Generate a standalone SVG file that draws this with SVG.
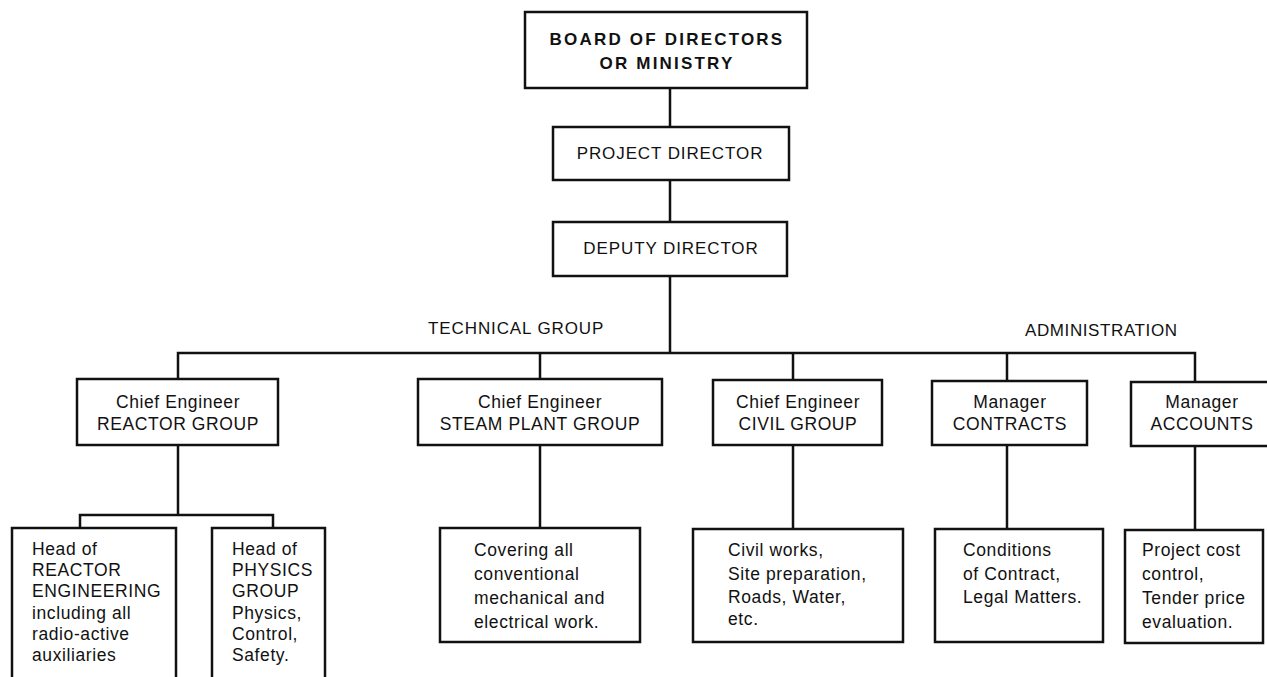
<svg xmlns="http://www.w3.org/2000/svg" width="1267" height="677" viewBox="0 0 1267 677">
<style>
  .box { fill: #fff; stroke: #111; stroke-width: 2.5; }
  .ln { fill: none; stroke: #111; stroke-width: 2.5; }
  text { font-family: "Liberation Sans", Arial, sans-serif; font-size: 17.5px; letter-spacing: 0.6px; fill: #111; }
  .c { text-anchor: middle; }
  .b { font-size: 17px; font-weight: bold; letter-spacing: 2.2px; }
  .cap { font-size: 17px; letter-spacing: 0.9px; }
</style>
<rect width="1267" height="677" fill="#fff"/>
<g id="connectors">
  <path class="ln" d="M670 88 V127 M670 180 V222 M670 276 V353"/>
  <path class="ln" d="M178 379 V353 H1195 V382"/>
  <path class="ln" d="M540 353 V379 M793 353 V380 M1007 353 V381"/>
  <path class="ln" d="M178 445 V515 M80 528 V515 H273 V528"/>
  <path class="ln" d="M540 445 V528 M793 445 V529 M1007 445 V529 M1195 446 V530"/>
</g>
<g id="board">
  <rect class="box" x="525" y="12" width="282" height="76"/>
  <text class="c b" x="667" y="45">BOARD OF DIRECTORS</text>
  <text class="c b" x="667" y="69">OR MINISTRY</text>
</g>
<g id="project-director">
  <rect class="box" x="553" y="127" width="236" height="53"/>
  <text class="c cap" x="670" y="159">PROJECT DIRECTOR</text>
</g>
<g id="deputy-director">
  <rect class="box" x="553" y="222" width="234" height="54"/>
  <text class="c cap" x="671" y="254">DEPUTY DIRECTOR</text>
</g>
<g id="labels">
  <text class="cap" x="428" y="334">TECHNICAL GROUP</text>
  <text class="cap" x="1025" y="336" style="letter-spacing:0.6px">ADMINISTRATION</text>
</g>
<g id="reactor-group">
  <rect class="box" x="77" y="379" width="201" height="66"/>
  <text class="c" x="178" y="408">Chief Engineer</text>
  <text class="c" x="178" y="430">REACTOR GROUP</text>
</g>
<g id="steam-plant-group">
  <rect class="box" x="418" y="379" width="244" height="66"/>
  <text class="c" x="540" y="408">Chief Engineer</text>
  <text class="c" x="540" y="430">STEAM PLANT GROUP</text>
</g>
<g id="civil-group">
  <rect class="box" x="713" y="380" width="169" height="65"/>
  <text class="c" x="798" y="408">Chief Engineer</text>
  <text class="c" x="798" y="430">CIVIL GROUP</text>
</g>
<g id="contracts">
  <rect class="box" x="932" y="381" width="155" height="64"/>
  <text class="c" x="1010" y="408">Manager</text>
  <text class="c" x="1010" y="430">CONTRACTS</text>
</g>
<g id="accounts">
  <rect class="box" x="1131" y="382" width="140" height="64"/>
  <text class="c" x="1202" y="408">Manager</text>
  <text class="c" x="1202" y="430">ACCOUNTS</text>
</g>
<g id="reactor-engineering">
  <rect class="box" x="12" y="528" width="164" height="165"/>
  <text x="32" y="555">Head of</text>
  <text x="32" y="576">REACTOR</text>
  <text x="32" y="597">ENGINEERING</text>
  <text x="32" y="619">including all</text>
  <text x="32" y="640">radio-active</text>
  <text x="32" y="661">auxiliaries</text>
</g>
<g id="physics-group">
  <rect class="box" x="212" y="528" width="113" height="165"/>
  <text x="232" y="555">Head of</text>
  <text x="232" y="576">PHYSICS</text>
  <text x="232" y="597">GROUP</text>
  <text x="232" y="619">Physics,</text>
  <text x="232" y="640">Control,</text>
  <text x="232" y="661">Safety.</text>
</g>
<g id="steam-detail">
  <rect class="box" x="440" y="528" width="200" height="114"/>
  <text x="474" y="556">Covering all</text>
  <text x="474" y="580">conventional</text>
  <text x="474" y="604">mechanical and</text>
  <text x="474" y="628">electrical work.</text>
</g>
<g id="civil-detail">
  <rect class="box" x="693" y="529" width="210" height="113"/>
  <text x="728" y="556">Civil works,</text>
  <text x="728" y="580">Site preparation,</text>
  <text x="728" y="603">Roads, Water,</text>
  <text x="728" y="625">etc.</text>
</g>
<g id="contracts-detail">
  <rect class="box" x="935" y="529" width="168" height="113"/>
  <text x="963" y="556">Conditions</text>
  <text x="963" y="580">of Contract,</text>
  <text x="963" y="603">Legal Matters.</text>
</g>
<g id="accounts-detail">
  <rect class="box" x="1125" y="530" width="138" height="113"/>
  <text x="1142" y="556">Project cost</text>
  <text x="1142" y="580">control,</text>
  <text x="1142" y="604">Tender price</text>
  <text x="1142" y="628">evaluation.</text>
</g>
</svg>
